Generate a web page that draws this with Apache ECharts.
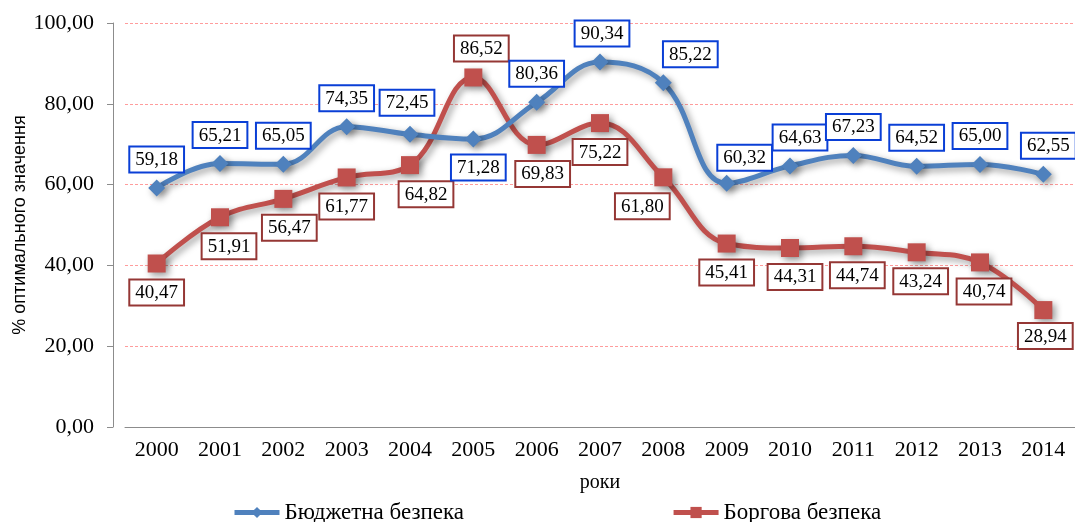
<!DOCTYPE html>
<html>
<head>
<meta charset="utf-8">
<style>
    html, body { margin: 0; padding: 0; background: #fff; }
    #chart { width: 1075px; height: 522px; }
</style>
<script src="https://cdn.jsdelivr.net/npm/echarts@6/dist/echarts.min.js"></script>
</head>
<body>
<div id="chart"></div>
<script>
    // дані
    const years = ['2000', '2001', '2002', '2003', '2004', '2005', '2006', '2007', '2008', '2009', '2010', '2011', '2012', '2013', '2014'];
    const budget = [59.18, 65.21, 65.05, 74.35, 72.45, 71.28, 80.36, 90.34, 85.22, 60.32, 64.63, 67.23, 64.52, 65.00, 62.55];
    const debt = [40.47, 51.91, 56.47, 61.77, 64.82, 86.52, 69.83, 75.22, 61.80, 45.41, 44.31, 44.74, 43.24, 40.74, 28.94];
    const yTicks = [0, 20, 40, 60, 80, 100];

    const fmt = v => v.toFixed(2).replace('.', ',');
    const serif = '"Liberation Serif", "Times New Roman", serif';

    // зсуви підписів (індекс -> [x, y])
    const budgetShift = { 4: [-3, -3], 5: [5, 0], 7: [2, 0], 8: [27, 0], 9: [18, 3], 10: [10, 0], 14: [5, 0] };
    const debtShift = { 1: [9, 0], 2: [6, 0], 4: [16, 0], 5: [8, 0], 6: [6, 0], 8: [-21, 0], 10: [5, 0], 11: [4, 0], 12: [4, 0], 13: [4, 0], 14: [2, -3] };

    const chart = echarts.init(document.getElementById('chart'));

    const lineShadow = {
        shadowColor: 'rgba(0,0,0,0.4)',
        shadowBlur: 7,
        shadowOffsetX: 3,
        shadowOffsetY: 3
    };

    function labelBox(border) {
        return {
            show: true,
            formatter: p => fmt(p.value),
            fontFamily: serif,
            fontSize: 19,
            color: '#000',
            backgroundColor: '#fff',
            borderColor: border,
            borderWidth: 2,
            padding: [3, 5, 2, 5],
            distance: 8
        };
    }

    chart.setOption({
        animation: false,
        grid: { left: 125, right: 0, top: 23, bottom: 95, outerBoundsMode: 'none' },
        legend: {
            left: 227,
            top: 496,
            itemGap: 207,
            itemWidth: 45,
            itemHeight: 14,
            lineStyle: { width: 5 },
            textStyle: { fontFamily: serif, fontSize: 23, color: '#000' },
            data: ['Бюджетна безпека', 'Боргова безпека']
        },
        xAxis: {
            type: 'category',
            data: years,
            name: 'роки',
            nameLocation: 'middle',
            nameGap: 46,
            nameTextStyle: { fontFamily: serif, fontSize: 20, color: '#000' },
            axisLine: { lineStyle: { color: '#8c8c8c' } },
            axisTick: { length: 6, lineStyle: { color: '#8c8c8c' } },
            axisLabel: { fontFamily: serif, fontSize: 22, color: '#000', margin: 12 }
        },
        yAxis: {
            type: 'value',
            min: yTicks[0],
            max: yTicks[yTicks.length - 1],
            interval: 20,
            offset: 12,
            name: '% оптимального значення',
            nameLocation: 'middle',
            nameGap: 84,
            nameMoveOverlap: false,
            nameTextStyle: { fontFamily: '"Liberation Sans", Arial, sans-serif', fontSize: 18, color: '#000' },
            axisLine: { show: true, lineStyle: { color: '#8c8c8c' } },
            axisTick: { show: true, length: 6, lineStyle: { color: '#8c8c8c' } },
            axisLabel: {
                fontFamily: serif, fontSize: 22, color: '#000', margin: 19,
                formatter: v => fmt(v)
            },
            splitLine: { lineStyle: { color: '#ff9c9c', type: [3, 2], width: 1 } }
        },
        series: [
            {
                name: 'Бюджетна безпека',
                type: 'line',
                smooth: 0.4,
                symbol: 'diamond',
                symbolSize: 17,
                z: 3,
                itemStyle: Object.assign({ color: '#4f81bd' }, lineShadow),
                lineStyle: Object.assign({ color: '#4f81bd', width: 5 }, lineShadow),
                label: Object.assign(labelBox('#0a3fd6'), { position: 'top' }),
                data: budget.map((v, i) => ({
                    value: v,
                    label: {
                        position: i === 5 ? 'bottom' : 'top',
                        offset: budgetShift[i] || [0, 0]
                    }
                }))
            },
            {
                name: 'Боргова безпека',
                type: 'line',
                smooth: 0.4,
                symbol: 'rect',
                symbolSize: 18,
                z: 2,
                itemStyle: Object.assign({ color: '#c0504d' }, lineShadow),
                lineStyle: Object.assign({ color: '#c0504d', width: 5 }, lineShadow),
                label: Object.assign(labelBox('#953735'), { position: 'bottom' }),
                data: debt.map((v, i) => ({
                    value: v,
                    label: {
                        position: i === 5 ? 'top' : 'bottom',
                        offset: debtShift[i] || [0, 0]
                    }
                }))
            }
        ]
    });
</script>
</body>
</html>
